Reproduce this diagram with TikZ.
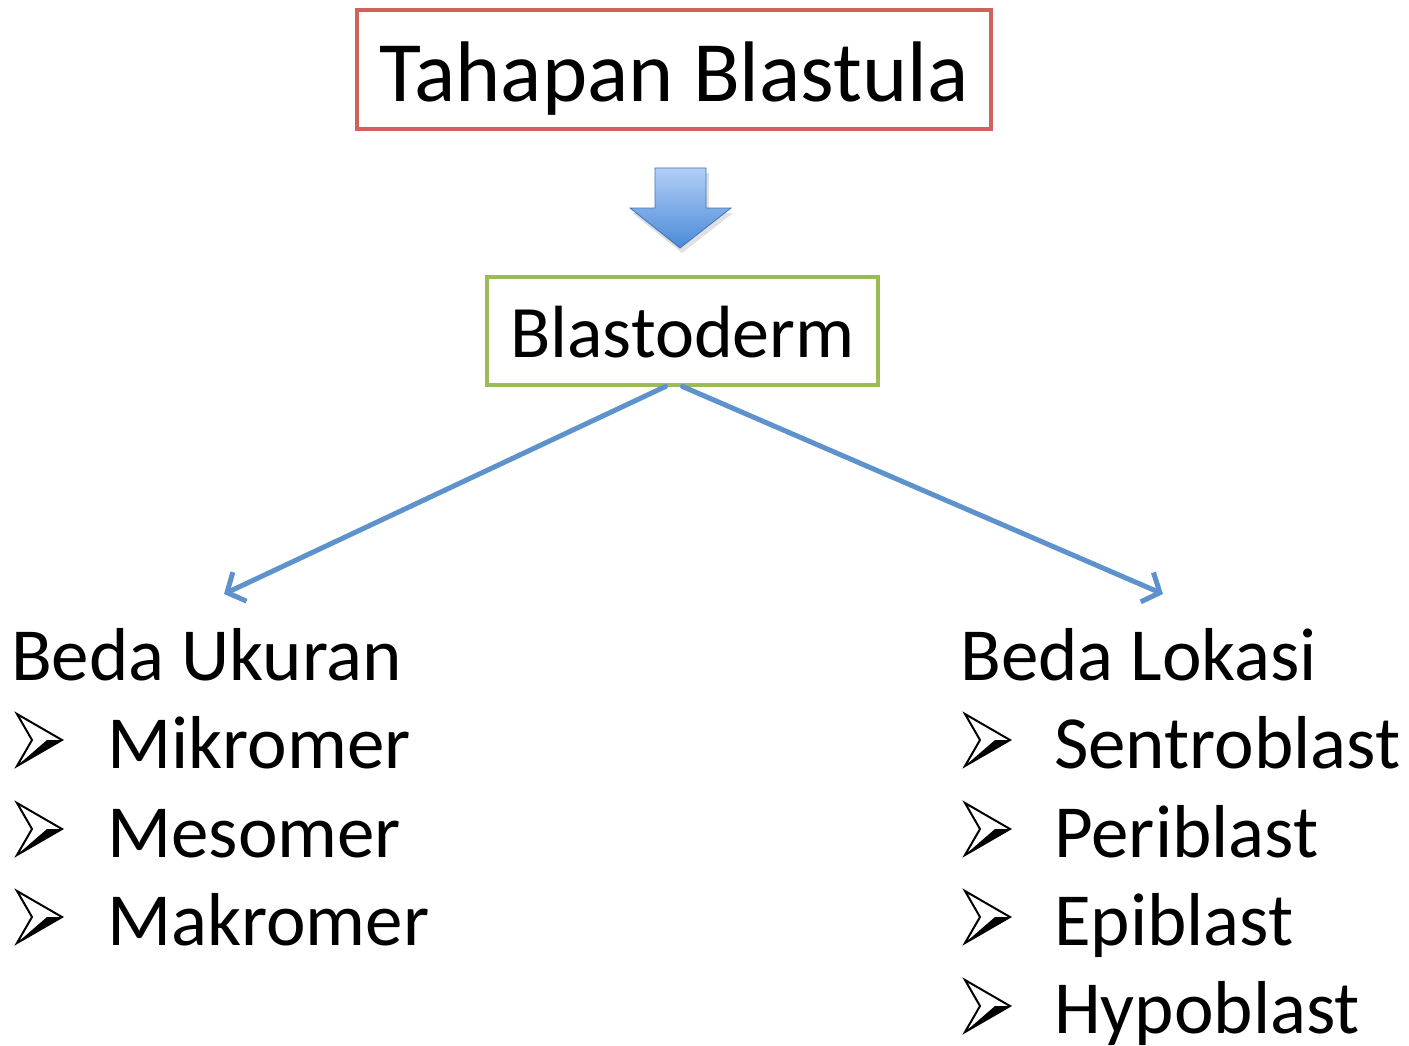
\documentclass[tikz,border=0pt]{standalone}
\usepackage{fontspec}
\setmainfont{Carlito}
\usetikzlibrary{arrows.meta}
\definecolor{titlered}{HTML}{D0625C}
\definecolor{boxgreen}{HTML}{9BBB59}
\definecolor{linkblue}{HTML}{5E92CC}
\definecolor{arrowtop}{HTML}{B2CFF7}
\definecolor{arrowbot}{HTML}{4A8AD8}
\tikzset{
  x=1pt, y=-1pt,
  titlebox/.style={draw=titlered, line width=4pt, minimum width=634pt, inner sep=0pt,
    text height=92pt, text depth=27pt, font=\fontsize{86}{86}\selectfont},
  subbox/.style={draw=boxgreen, line width=3.5pt, minimum width=391pt, inner sep=0pt,
    text height=81pt, text depth=27pt, font=\fontsize{74}{74}\selectfont},
  heading/.style={anchor=base west, inner sep=0pt, font=\fontsize{75}{75}\selectfont},
  item/.style={anchor=base west, inner sep=0pt, font=\fontsize{75}{75}\selectfont},
  link/.style={draw=linkblue, line width=5pt, line cap=round,
    -{Straight Barb[length=14pt, width=32pt, line width=5pt]}},
  pics/bullet/.style={code={
    \fill[black] (0,0) -- (15,0) -- (-30,26) -- cycle;
    \draw[black, line width=2pt, line join=miter] (-30,-26) -- (15,0) -- (-30,26) -- (-15,0) -- cycle;
  }}
}
\begin{document}
\begin{tikzpicture}
\useasboundingbox (0,0) rectangle (1409,1046);

% title and subtitle boxes
\node[titlebox, anchor=north] (title) at (674,8) {Tahapan Blastula};
\node[subbox, anchor=north] (blasto) at (682.5,275) {Blastoderm};

% block arrow between the two boxes, with a soft shadow
\fill[black!12] (658,173) -- (709,173) -- (709,213) -- (733,213) -- (682,253) -- (632,213) -- (658,213) -- cycle;
\shade[top color=arrowtop, bottom color=arrowbot, draw=arrowbot!85!black, line width=0.8pt]
  (655,168) -- (706,168) -- (706,208) -- (731,208) -- (680,248) -- (630,208) -- (655,208) -- cycle;

% left column
\node[heading] (ukuran) at (11,680) {Beda Ukuran};
\node[item] (mikro) at (107,768) {Mikromer};
\node[item] (meso) at (107,857) {Mesomer};
\node[item] (makro) at (107,945) {Makromer};
\pic at (47,740) {bullet};
\pic at (47,829) {bullet};
\pic at (47,917) {bullet};

% right column
\node[heading] (lokasi) at (960,680) {Beda Lokasi};
\node[item] (sentro) at (1054,768) {Sentroblast};
\node[item] (peri) at (1054,857) {Periblast};
\node[item] (epi) at (1054,945) {Epiblast};
\node[item] (hypo) at (1054,1033) {Hypoblast};
\pic at (995,740) {bullet};
\pic at (995,829) {bullet};
\pic at (995,917) {bullet};
\pic at (995,1006) {bullet};

% connectors
\coordinate (lefttip) at (224,594);
\coordinate (righttip) at (1163,594);
\draw[link] ([xshift=-17pt]blasto.south) -- (lefttip);
\draw[link] (blasto.south) -- (righttip);
\end{tikzpicture}
\end{document}
